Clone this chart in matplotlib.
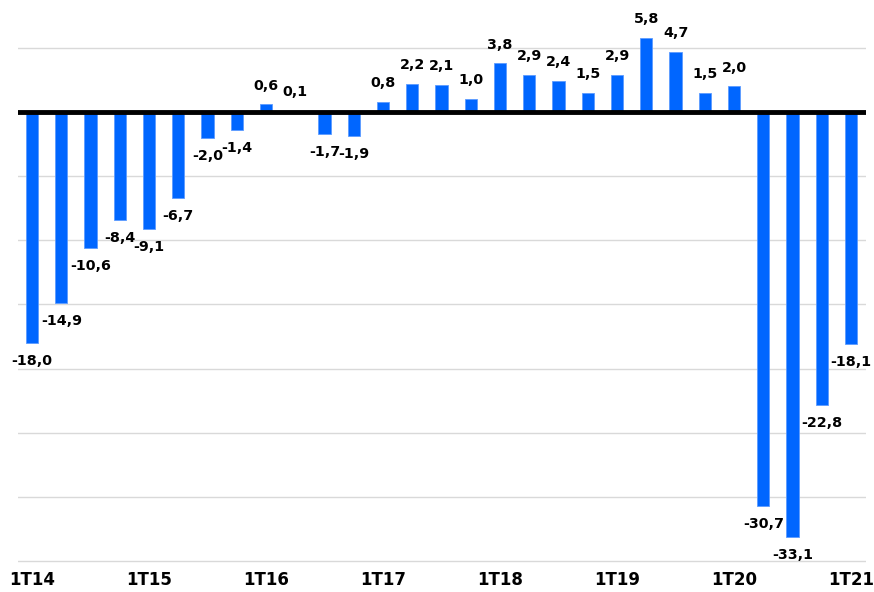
import matplotlib
matplotlib.use("Agg")
import matplotlib.pyplot as plt
import numpy as np

quarters = ["1T14", "2T14", "3T14", "4T14",
            "1T15", "2T15", "3T15", "4T15",
            "1T16", "2T16", "3T16", "4T16",
            "1T17", "2T17", "3T17", "4T17",
            "1T18", "2T18", "3T18", "4T18",
            "1T19", "2T19", "3T19", "4T19",
            "1T20", "2T20", "3T20", "4T20",
            "1T21"]
values = [-18.0, -14.9, -10.6, -8.4,
          -9.1, -6.7, -2.0, -1.4,
          0.6, 0.1, -1.7, -1.9,
          0.8, 2.2, 2.1, 1.0,
          3.8, 2.9, 2.4, 1.5,
          2.9, 5.8, 4.7, 1.5,
          2.0, -30.7, -33.1, -22.8,
          -18.1]
tick_labels = ["1T14", "1T15", "1T16", "1T17", "1T18", "1T19", "1T20", "1T21"]

ppu = 12.83
ymin, ymax = -35.5, 8.73
bottom_px = 112 + (-ymin) * ppu
fig = plt.figure(figsize=(8.74, 5.92), dpi=100)
ax = fig.add_axes([18/874, 1 - bottom_px/592, (866-18)/874, bottom_px/592])

x = np.arange(len(values))
ax.bar(x, values, width=0.42, color="#0066FF", edgecolor="#5C9BFF", linewidth=0.6, zorder=3)

ax.set_xlim(-0.48, 28.51)
ax.set_ylim(ymin, ymax)
ax.set_yticks(np.arange(-35, 10, 5))
ax.yaxis.grid(True, color="#d9d9d9", linewidth=1.0, zorder=0)
ax.axhline(0, color="black", linewidth=3.5, zorder=4)
ax.tick_params(axis="y", left=False, labelleft=False)

for xi, v in zip(x, values):
    lab = f"{v:.1f}".replace(".", ",")
    off = 13.5 if v >= 0 else -13
    ax.annotate(lab, (xi, v), xytext=(0, off), textcoords="offset points",
                ha="center", va="center", fontsize=10.3, fontweight="bold", zorder=5)

tick_pos = [quarters.index(t) for t in tick_labels]
ax.set_xticks(tick_pos)
ax.set_xticklabels(tick_labels, fontsize=12, fontweight="bold")
ax.tick_params(axis="x", length=0, pad=2.5)

for s in ax.spines.values():
    s.set_visible(False)

fig.savefig("out.png", dpi=100)
